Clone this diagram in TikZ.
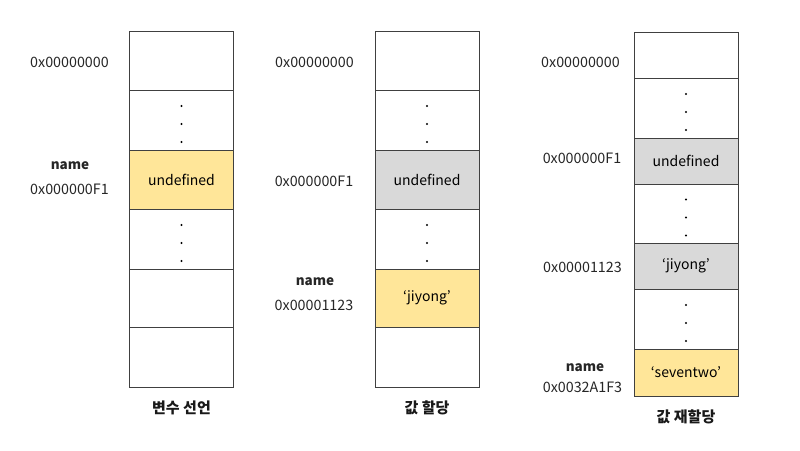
\documentclass[tikz,border=0pt]{standalone}
\usepackage{fontspec}
\setmainfont{Noto Sans CJK KR}
\usetikzlibrary{calc}
\definecolor{cellyellow}{HTML}{FFE699}
\definecolor{cellgray}{HTML}{D9D9D9}
\definecolor{cellline}{HTML}{404040}
\tikzset{
  cell/.style={draw=cellline, line width=0.8pt, minimum width=104pt, inner sep=0pt, font=\fontsize{14}{16}\selectfont},
  addr/.style={font=\fontsize{14.3}{16}\selectfont, text=black!85},
  varname/.style={font=\bfseries\fontsize{13.5}{16}\selectfont, text=black!85},
  caption/.style={font=\bfseries\fontsize{15}{18}\selectfont, text=black!90}
}
% three dots in the middle of a cell
\def\celldots(#1){\foreach \d in {-14,4,22} \fill[black] ($(#1)+(0,\d)$) circle (1.2pt);}

\begin{document}
\begin{tikzpicture}[x=1pt, y=-1pt]
		\useasboundingbox (0,0) rectangle (800,450);
		
		%%%%% 변수 선언 %%%%%
		\node[cell, minimum height=59pt] (a1) at (181.5,60.5) {};
		\node[cell, minimum height=60pt] (a2) at (181.5,120) {};
		\node[cell, minimum height=59pt, fill=cellyellow] (a3) at (181.5,179.5) {undefined};
		\node[cell, minimum height=60pt] (a4) at (181.5,239) {};
		\node[cell, minimum height=58pt] (a5) at (181.5,298) {};
		\node[cell, minimum height=60pt] (a6) at (181.5,357) {};
		\celldots(a2)
		\celldots(a4)
		
		\node[addr] (a1addr) at (69.5,62) {0x00000000};
		\node[varname] (a3name) at (70,166) {name};
		\node[addr] (a3addr) at (69.5,189) {0x000000F1};
		\node[caption] (acap) at (181.5,408) {변수 선언};
		
		%%%%% 값 할당 %%%%%
		\node[cell, minimum height=59pt] (b1) at (427,60.5) {};
		\node[cell, minimum height=60pt] (b2) at (427,120) {};
		\node[cell, minimum height=59pt, fill=cellgray] (b3) at (427,179.5) {undefined};
		\node[cell, minimum height=60pt] (b4) at (427,239) {};
		\node[cell, minimum height=58pt, fill=cellyellow] (b5) at (427,298) {‘jiyong’};
		\node[cell, minimum height=60pt] (b6) at (427,357) {};
		\celldots(b2)
		\celldots(b4)
		
		\node[addr] (b1addr) at (314.5,62) {0x00000000};
		\node[addr] (b3addr) at (314,181) {0x000000F1};
		\node[varname] (b5name) at (315,282) {name};
		\node[addr] (b5addr) at (314,305) {0x00001123};
		\node[caption] (bcap) at (427,408) {값 할당};
		
		%%%%% 값 재할당 %%%%%
		\node[cell, minimum height=46pt] (c1) at (686,55) {};
		\node[cell, minimum height=60pt] (c2) at (686,108) {};
		\node[cell, minimum height=46pt, fill=cellgray] (c3) at (686,161) {undefined};
		\node[cell, minimum height=59pt] (c4) at (686,213.5) {};
		\node[cell, minimum height=46pt, fill=cellgray] (c5) at (686,266) {‘jiyong’};
		\node[cell, minimum height=60pt] (c6) at (686,319) {};
		\node[cell, minimum height=47pt, fill=cellyellow] (c7) at (686,372.5) {‘seventwo’};
		\celldots(c2)
		\celldots(c4)
		\celldots(c6)
		
		\node[addr] (c1addr) at (580.5,62) {0x00000000};
		\node[addr] (c3addr) at (582,158) {0x000000F1};
		\node[addr] (c5addr) at (582.5,267) {0x00001123};
		\node[varname] (c7name) at (585,368) {name};
		\node[addr] (c7addr) at (582.5,387) {0x0032A1F3};
		\node[caption] (ccap) at (686,417) {값 재할당};
		
	\end{tikzpicture}
\end{document}
